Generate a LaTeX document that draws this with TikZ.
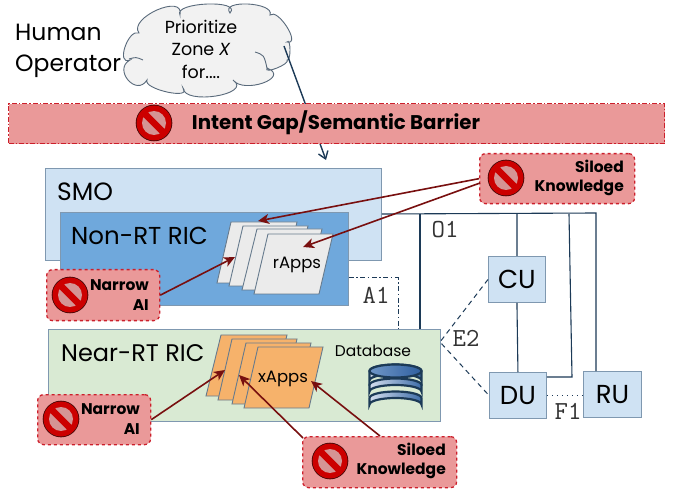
\documentclass[tikz,border=0pt]{standalone}
\usepackage{fontspec}
\setmainfont{Poppins}
\usetikzlibrary{arrows.meta,shadings}
\definecolor{edgeblue}{HTML}{7F98B0}
\definecolor{navy}{HTML}{1C3A57}
\definecolor{smofill}{HTML}{CFE2F3}
\definecolor{ricfill}{HTML}{6FA8DC}
\definecolor{nearfill}{HTML}{D9EAD3}
\definecolor{warnfill}{HTML}{EA9999}
\definecolor{warnedge}{HTML}{CC1F2B}
\definecolor{darkred}{HTML}{780F0F}
\definecolor{pagegrey}{HTML}{EBEBEB}
\definecolor{pageorange}{HTML}{F6B26B}
\definecolor{dbA}{HTML}{D5DEEE}
\definecolor{dbB}{HTML}{3E6DA8}
\definecolor{dbC}{HTML}{7097C8}
\definecolor{dbD}{HTML}{2F5F9F}
\tikzset{
  x=1pt,y=-1pt,
  box/.style={draw=edgeblue,line width=0.9pt,anchor=north west,inner sep=0pt},
  unit/.style={box,fill=smofill,minimum width=57pt,minimum height=46pt,font=\fontsize{26}{26}\selectfont},
  warn/.style={draw=warnedge,fill=warnfill,line width=1.3pt,dashed,rounded corners=6pt,anchor=north west,inner sep=0pt},
  warntext/.style={font=\fontsize{15.5}{19.5}\selectfont\bfseries,align=right,anchor=east,inner sep=0pt},
  link/.style={draw=navy,line width=1.1pt},
  tag/.style={font=\ttfamily\fontsize{26}{26}\selectfont,text=black!80,inner sep=0pt},
  harm/.style={draw=darkred,line width=1.6pt,-{Stealth[length=11pt,width=10pt,inset=3pt]}},
  page/.style={draw=edgeblue!80!black,line width=0.9pt},
  lbl/.style={inner sep=0pt,anchor=west},
  cloudline/.style={draw=edgeblue!70!black,line width=0.9pt},
}
\newcommand{\noentry}[2]{%
  \fill[black!45!darkred] (#1,#2) circle (18.3pt);
  \fill[red!80!black] (#1,#2) circle (17.5pt);
  \fill[warnfill!80!gray] (#1,#2) circle (12pt);
  \begin{scope}[shift={(#1,#2)},rotate=-45]
    \fill[red!80!black] (-13,-3.2) rectangle (13,3.2);
  \end{scope}
}
\newcommand{\pageat}[6]{% tlx, trx, y top, blx, y bot, fill
  \filldraw[page,fill=#6] (#1,#3) -- (#2,#3) -- (#2-#1+#4,#5) -- (#4,#5) -- cycle;
}
\newcommand{\dbdisc}[2]{%
  \path[left color=dbA,right color=dbB,draw=navy,line width=2.2pt]
    (369.5,#1) -- (369.5,#2) arc[start angle=180,end angle=360,x radius=26,y radius=6.5] -- (421.5,#1) arc[start angle=360,end angle=180,x radius=26,y radius=6.5] -- cycle;
}
\begin{document}
\begin{tikzpicture}
\useasboundingbox (0,0) rectangle (678,489);
\fill[white] (0,0) rectangle (678,489);

% human operator
\node[lbl,font=\fontsize{23.5}{31}\selectfont,align=left,anchor=north west] (human) at (15,23.5) {Human\\Operator};

% cloud
\filldraw[cloudline,fill=black!5]
  (139,33) .. controls (127.7,17.9) and (184.7,-7.3) .. (180,15)
  .. controls (172.7,2.1) and (242.7,-0.7) .. (230,13)
  .. controls (219.3,-0.7) and (275.3,2.1) .. (270,15)
  .. controls (277.9,7.6) and (301.7,45.4) .. (287,42)
  .. controls (291,37.1) and (291,62.3) .. (287,60)
  .. controls (291,63.7) and (263,75) .. (267,68)
  .. controls (291.1,77.6) and (243.5,94.4) .. (233,80)
  .. controls (253.7,94.4) and (183.7,105.6) .. (183,88)
  .. controls (192.9,100.3) and (142.5,89.1) .. (147,80)
  .. controls (136.4,97.3) and (112.6,69.3) .. (130,60)
  .. controls (115.5,66.1) and (128.1,28.3) .. (139,33) -- cycle;
\draw[cloudline] (255,52) .. controls (264,55) .. (267,68);
\draw[cloudline] (129,59) .. controls (136,57) .. (143,60);
\node[inner sep=0pt,align=center,font=\fontsize{17.5}{22.5}\selectfont] (cloudtext) at (201,49) {Prioritize\\Zone \textit{X}\\for....};

% SMO
\node[box,fill=smofill,minimum width=336pt,minimum height=92pt] (smo) at (45,168) {};
\node[lbl,font=\fontsize{25}{25}\selectfont] (smot) at (57,192) {SMO};
\coordinate (intent) at (326,160);
\coordinate (cloudout) at (284,46);
\draw[navy,line width=1.4pt,-{Straight Barb[length=7pt,width=10pt]}] (cloudout) -- (intent);

% banner
\node[warn,rounded corners=0pt,dash pattern=on 5pt off 2pt on 1.5pt off 2pt,minimum width=656pt,minimum height=40pt] (gap) at (8,103) {};
\node[inner sep=0pt,font=\fontsize{19.8}{19.8}\selectfont\bfseries] (gapt) at (336,123) {Intent Gap/Semantic Barrier};
\noentry{154}{123}

% connectors
\coordinate (o1a) at (420,214);
\coordinate (o1b) at (517,214);
\coordinate (o1c) at (569,214);
\coordinate (o1d) at (596,213);
\coordinate (dubend) at (572,377);
\coordinate (a1a) at (398,278);
\coordinate (e2) at (440,342);

% Non-RT
\node[box,fill=ricfill,minimum width=288pt,minimum height=93pt] (nonrt) at (60,212) {};
\node[lbl,font=\fontsize{24.5}{24.5}\selectfont] (nonrtt) at (71,236) {Non-RT RIC};
\pageat{231}{297}{222}{217}{283}{pagegrey}
\pageat{243}{308}{226}{229}{286}{pagegrey}
\pageat{257}{322}{229}{242}{290}{pagegrey}
\pageat{268}{333}{234}{254}{294}{pagegrey}
\node[inner sep=0pt,font=\fontsize{16.5}{16.5}\selectfont] (rapps) at (297,265) {rApps};

% Near-RT
\node[box,fill=nearfill,minimum width=392pt,minimum height=92pt] (nearrt) at (48,329) {};
\node[lbl,font=\fontsize{24}{24}\selectfont] (nearrtt) at (61,353) {Near-RT RIC};
\pageat{221}{287}{335}{206}{396}{pageorange}
\pageat{232}{297}{339}{218}{400}{pageorange}
\pageat{246}{311}{343}{232}{404}{pageorange}
\pageat{258}{323}{347}{244}{408}{pageorange}
\node[inner sep=0pt,font=\fontsize{16.5}{16.5}\selectfont] (xapps) at (283,379) {xApps};
\node[inner sep=0pt,font=\fontsize{15.5}{15.5}\selectfont] (dbt) at (373,351) {Database};
\dbdisc{398}{404.5}
\dbdisc{385}{391.5}
\dbdisc{371}{380.5}
\path[left color=dbC,right color=dbD,draw=navy,line width=2.2pt] (395.5,371) ellipse [x radius=26,y radius=6.5];

% RAN units
\node[unit,minimum width=57pt] (cu) at (488,256) {CU};
\node[unit] (du) at (489,372) {DU};
\node[unit,minimum width=58pt] (ru) at (583,371) {RU};

\draw[link] (smo.east |- o1a) -- (o1d) -- (ru.north -| o1d);
\draw[link] (o1a) -- (o1a |- nearrt.north);
\draw[link] (o1b) -- (cu.north);
\draw[link] (cu.south) -- (du.north);
\draw[link] (o1c) -- (dubend) -- (du.east |- dubend);
\draw[navy,line width=1pt,dash pattern=on 5pt off 2.5pt on 1.5pt off 2.5pt] (nonrt.east |- a1a) -- (a1a) -- (a1a |- nearrt.north);
\draw[navy,line width=1pt,dash pattern=on 5pt off 4pt] (cu.west) -- (e2) -- (du.west);
\draw[navy,line width=1pt,dash pattern=on 1.5pt off 3.5pt] (du.east) -- (ru.west |- du.east);

\node[tag] (o1l) at (445,230) {O1};
\node[tag] (a1l) at (376,295) {A1};
\node[tag] (e2l) at (466,338) {E2};
\node[tag] (f1l) at (568,411) {F1};

% warnings
\node[warn,minimum width=155pt,minimum height=50pt] (siloa) at (479,153) {};
\noentry{506}{178}
\node[warntext] (siloat) at (624,178) {Siloed\\Knowledge};

\node[warn,minimum width=113pt,minimum height=51pt] (narrowa) at (46,269) {};
\noentry{70}{295}
\node[warntext] (narrowat) at (149,295) {Narrow\\AI};

\node[warn,minimum width=113pt,minimum height=50pt] (narrowb) at (37,394) {};
\noentry{61}{419}
\node[warntext] (narrowbt) at (140,419) {Narrow\\AI};

\node[warn,minimum width=154pt,minimum height=51pt] (silob) at (302,436) {};
\noentry{330}{461}
\node[warntext] (silobt) at (446,461) {Siloed\\Knowledge};

% harm arrows
\coordinate (t1) at (258,221);
\coordinate (t2) at (303,247);
\coordinate (t3) at (235,257);
\coordinate (t4) at (225,370);
\coordinate (t5) at (239,375);
\coordinate (t6) at (311,381);
\coordinate (sb1) at (303,438);
\coordinate (sb2) at (380,436);
\coordinate (sa2) at (480,183);
\draw[harm] (siloa.west) -- (t1);
\draw[harm] (sa2) -- (t2);
\draw[harm] (narrowa.east) -- (t3);
\draw[harm] (narrowb.east) -- (t4);
\draw[harm] (sb1) -- (t5);
\draw[harm] (sb2) -- (t6);
\end{tikzpicture}
\end{document}
